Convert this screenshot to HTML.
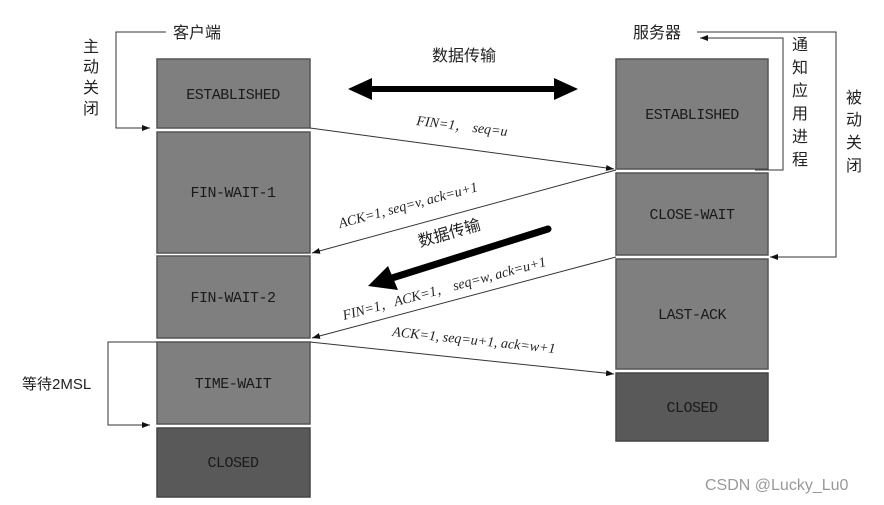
<!DOCTYPE html>
<html><head><meta charset="utf-8"><style>
body{margin:0;background:#fff;}
svg{display:block;font-family:"Liberation Serif","Noto Serif CJK SC",serif;}
.b{fill:#7f7f7f;stroke:#555;stroke-width:1.5}
.d{fill:#595959;stroke:#444;stroke-width:1.5}
.t{font-size:15px;fill:#1a1a1a;text-anchor:middle;font-family:"Liberation Mono","DejaVu Sans Mono",monospace;letter-spacing:-0.5px}
.c{font-size:16px;fill:#222;font-family:"Liberation Sans","Noto Sans CJK SC",sans-serif}
.l{font-size:14px;fill:#222;font-style:italic}
</style></head><body>
<svg width="884" height="505" viewBox="0 0 884 505">
<defs><marker id="a" markerWidth="8" markerHeight="6" refX="8" refY="3" orient="auto"><path d="M0,0L8,3L0,6z" fill="#111"/></marker></defs>
<rect class="b" x="157" y="59" width="153" height="69"/>
<rect class="b" x="157" y="132" width="153" height="121"/>
<rect class="b" x="157" y="256" width="153" height="82"/>
<rect class="b" x="157" y="342" width="153" height="82"/>
<rect class="d" x="157" y="428" width="153" height="69"/>
<rect class="b" x="616" y="59" width="152" height="110"/>
<rect class="b" x="616" y="173" width="152" height="82"/>
<rect class="b" x="616" y="259" width="152" height="110"/>
<rect class="d" x="616" y="373" width="152" height="68"/>
<text class="t" x="233" y="99">ESTABLISHED</text>
<text class="t" x="233" y="197">FIN-WAIT-1</text>
<text class="t" x="233" y="302">FIN-WAIT-2</text>
<text class="t" x="233" y="388">TIME-WAIT</text>
<text class="t" x="233" y="467">CLOSED</text>
<text class="t" x="692" y="119">ESTABLISHED</text>
<text class="t" x="692" y="219">CLOSE-WAIT</text>
<text class="t" x="692" y="319">LAST-ACK</text>
<text class="t" x="692" y="412">CLOSED</text>
<g fill="none" stroke="#333" stroke-width="1">
<path d="M166,32H116V128H150" marker-end="url(#a)"/>
<path d="M697,32H836V257H770" marker-end="url(#a)"/>
<path d="M755,170H783V38H700" marker-end="url(#a)"/>
<path d="M157,342H108V425H150" marker-end="url(#a)"/>
<path d="M310,128L614,169" marker-end="url(#a)"/>
<path d="M616,170L312,253" marker-end="url(#a)"/>
<path d="M616,257L312,338" marker-end="url(#a)"/>
<path d="M310,342L614,374" marker-end="url(#a)"/>
</g>
<line x1="368" y1="89" x2="560" y2="89" stroke="#000" stroke-width="6"/>
<path d="M348,89L372,78V100z M578,89L554,78V100z" fill="#000"/>
<line x1="548" y1="229" x2="392" y2="278" stroke="#000" stroke-width="7" stroke-linecap="round"/>
<path d="M368,286L388,266L398,290z" fill="#000"/>
<text class="c" x="173" y="38">客户端</text>
<text class="c" x="633" y="38">服务器</text>
<text class="c" x="432" y="61">数据传输</text>
<g class="c"><text x="83" y="52">主</text><text x="83" y="72">动</text><text x="83" y="93">关</text><text x="83" y="114">闭</text></g>
<g class="c"><text x="792" y="50">通</text><text x="792" y="73">知</text><text x="792" y="96">应</text><text x="792" y="119">用</text><text x="792" y="142">进</text><text x="792" y="165">程</text></g>
<g class="c"><text x="846" y="103">被</text><text x="846" y="125">动</text><text x="846" y="148">关</text><text x="846" y="171">闭</text></g>
<text class="c" x="22" y="389" style="font-size:15px">等待2MSL</text>
<text class="c" transform="translate(420,247) rotate(-16)">数据传输</text>
<text class="l" transform="translate(416,125) rotate(7)">FIN=1， seq=u</text>
<text class="l" transform="translate(340,228) rotate(-15)">ACK=1, seq=v, ack=u+1</text>
<text class="l" transform="translate(344,320) rotate(-15)">FIN=1，ACK=1， seq=w, ack=u+1</text>
<text class="l" transform="translate(392,336) rotate(6)">ACK=1, seq=u+1, ack=w+1</text>
<text x="705" y="490" style="font-family:'Liberation Sans',sans-serif;font-size:16px;fill:#999">CSDN @Lucky_Lu0</text>
</svg>
</body></html>
